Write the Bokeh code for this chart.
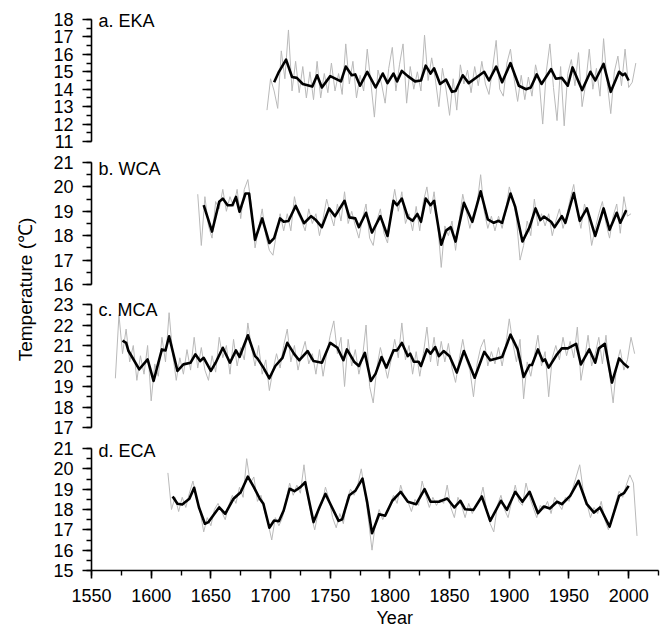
from bokeh.plotting import figure
from bokeh.models import Range1d, SingleIntervalTicker, Label
from bokeh.layouts import column, row
from bokeh.embed import file_html
from bokeh.resources import INLINE

FONT = "Liberation Sans"

# ---------------- data ----------------
x_start, x_end = 1550, 2025

# a. EKA
eka_raw_start = 1697
eka_raw = [12.8, 14.6, 13.9, 12.9, 16.2, 14.6, 17.4, 13.9, 15.6, 13.8, 15.3, 13.5, 15.0, 13.4, 15.6, 13.5,
           14.9, 13.8, 15.5, 13.9, 14.9, 13.7, 16.6, 14.3, 15.6, 13.5, 14.8, 13.9, 16.3, 14.4, 12.4, 15.1,
           14.3, 13.2, 15.2, 16.4, 13.9, 15.4, 16.6, 13.2, 15.3, 14.0, 15.0, 13.9, 17.1, 14.5, 15.8, 14.6,
           13.0, 15.2, 14.0, 12.5, 14.6, 12.8, 15.4, 14.3, 15.1, 13.8, 15.3, 14.2, 15.6, 14.3, 13.7, 15.2,
           16.8, 14.0, 13.6, 15.5, 16.3, 14.6, 13.3, 14.8, 13.4, 14.7, 13.6, 15.4, 14.5, 12.0, 15.0, 16.6,
           14.1, 12.2, 15.3, 11.9, 14.9, 15.7, 14.2, 16.1, 13.0, 14.3, 16.3, 14.0, 15.2, 13.6, 16.9, 14.4,
           12.6, 15.0, 15.9, 14.2, 16.3, 14.1, 14.4, 15.5]
eka_smooth_years = [1703, 1707, 1713, 1718, 1722, 1727, 1735, 1739, 1743, 1750, 1759, 1763, 1768, 1771, 1775,
                    1781, 1788, 1794, 1798, 1803, 1806, 1810, 1815, 1821, 1826, 1830, 1834, 1837, 1842, 1847,
                    1852, 1855, 1861, 1866, 1873, 1879, 1883, 1889, 1894, 1901, 1908, 1914, 1918, 1923, 1927,
                    1935, 1939, 1944, 1949, 1953, 1961, 1968, 1972, 1979, 1985, 1992, 1995, 1997, 2000]
eka_smooth = [14.4, 15.0, 15.7, 14.7, 14.65, 14.3, 14.15, 14.8, 14.1, 14.75, 14.45, 15.3, 14.8, 14.85, 14.2,
              15.0, 14.1, 14.9, 14.35, 14.9, 14.45, 15.05, 14.75, 14.45, 14.5, 15.35, 14.9, 15.2, 14.3, 14.55,
              13.85, 13.9, 14.8, 14.35, 14.7, 15.0, 14.5, 15.3, 14.4, 15.5, 14.2, 14.0, 14.1, 14.85, 14.3,
              15.15, 14.6, 14.65, 14.2, 15.25, 13.95, 15.0, 14.5, 15.45, 13.85, 15.0, 14.8, 14.9, 14.5]

# b. WCA
wca_raw_start = 1639
wca_raw = [19.7, 17.6, 19.6, 18.4, 17.9, 19.4, 19.1, 19.9, 19.0, 19.6, 19.2, 19.9, 18.7, 19.9, 20.3, 19.2,
           17.5, 18.3, 19.1, 18.0, 17.4, 17.2, 18.1, 18.9, 18.2, 18.9, 18.2, 19.6, 18.9, 18.6, 18.2, 19.1,
           18.5, 18.9, 18.0, 18.7, 19.5, 18.9, 18.4, 19.3, 18.6, 19.8, 18.5, 19.0, 18.4, 17.9, 18.7, 19.3,
           17.9, 17.6, 18.6, 19.1, 18.1, 17.7, 19.0, 19.9, 19.0, 19.8, 18.5, 18.9, 18.2, 19.2, 18.2, 19.4,
           20.0, 18.9, 19.8, 18.5, 16.7, 18.4, 18.0, 18.6, 17.4, 18.6, 19.7, 19.0, 18.3, 18.9, 19.3, 20.5,
           19.0, 18.3, 18.8, 18.2, 18.8, 18.3, 19.0, 20.0, 19.5, 18.7, 17.0, 17.6, 18.6, 18.0, 19.5, 18.4,
           18.9, 18.4, 18.9, 18.0, 18.6, 19.1, 18.3, 18.8, 19.5, 20.1, 19.0, 18.3, 19.3, 18.8, 17.6, 18.3,
           18.9, 19.4, 18.5, 17.9, 18.8, 19.3, 18.1, 19.6, 18.8, 18.9]
wca_smooth_years = [1644, 1651, 1657, 1660, 1664, 1668, 1671, 1674, 1679, 1682, 1687, 1693, 1699, 1703, 1708,
                    1711, 1715, 1721, 1728, 1734, 1738, 1743, 1749, 1754, 1762, 1766, 1771, 1774, 1780, 1785,
                    1792, 1798, 1803, 1806, 1810, 1815, 1819, 1823, 1826, 1830, 1834, 1837, 1843, 1847, 1851,
                    1855, 1862, 1869, 1876, 1882, 1887, 1891, 1894, 1901, 1905, 1911, 1917, 1922, 1926, 1929,
                    1935, 1938, 1944, 1947, 1954, 1959, 1965, 1972, 1979, 1984, 1990, 1993, 1998]
wca_smooth = [19.25, 18.17, 19.39, 19.52, 19.25, 19.25, 19.59, 18.98, 19.73, 19.73, 17.83, 18.71, 17.70, 17.90, 18.71,
              18.57, 18.6, 19.22, 18.51, 18.80, 18.64, 18.35, 19.12, 18.80, 19.43, 18.75, 18.71, 18.35, 18.94, 18.13,
              18.80, 17.99, 19.43, 19.25, 19.52, 18.75, 18.61, 18.89, 18.57, 19.52, 19.25, 19.43, 17.63, 18.21, 18.35,
              17.76, 19.35, 18.57, 19.82, 18.67, 18.53, 18.61, 18.53, 19.73, 19.18, 17.76, 18.35, 19.12, 18.64, 18.78,
              18.57, 18.35, 18.80, 18.53, 19.75, 18.61, 19.12, 17.99, 19.12, 18.24, 18.94, 18.53, 19.05]

# c. MCA
mca_raw_start = 1570
mca_raw = [19.4, 22.5, 20.6, 21.8, 20.2, 21.0, 19.3, 20.5, 19.6, 21.0, 18.3, 20.1, 19.5, 21.4, 20.2, 22.6,
           20.6, 19.3, 20.4, 19.6, 20.8, 19.8, 21.4, 19.9, 20.9, 19.8, 19.3, 20.5, 19.7, 21.4, 20.4, 21.0,
           19.6, 21.3, 20.0, 20.9, 20.3, 22.1, 20.9, 20.0, 21.0, 19.6, 20.3, 18.8, 19.8, 20.6, 19.9, 21.0,
           21.8, 20.2, 21.0, 19.8, 20.6, 21.2, 20.1, 20.6, 19.6, 20.8, 19.5, 20.6, 21.5, 22.2, 20.6, 21.4,
           19.0, 21.3, 20.0, 20.8, 19.6, 20.4, 22.0, 19.0, 18.2, 19.9, 20.9, 20.2, 19.4, 20.3, 21.3, 20.4,
           22.1, 20.3, 21.0, 19.6, 20.7, 19.5, 20.6, 21.9, 20.2, 21.4, 20.0, 21.2, 20.2, 21.1, 19.9, 19.2,
           20.3, 21.3, 20.3, 19.8, 18.5, 20.1, 20.9, 21.3, 20.0, 20.7, 20.1, 20.9, 20.0, 21.0, 22.3, 21.1,
           20.2, 21.3, 18.4, 20.2, 19.5, 20.5, 21.5, 20.0, 20.7, 18.5, 20.4, 21.0, 20.3, 21.4, 20.5, 21.2,
           20.4, 21.9, 19.3, 20.3, 21.5, 20.0, 20.6, 21.4, 20.1, 21.5, 19.6, 18.2, 20.1, 20.8, 19.8, 20.3,
           21.4, 20.6]
mca_smooth_years = [1576, 1579, 1581, 1584, 1590, 1597, 1602, 1606, 1609, 1612, 1615, 1622, 1627, 1633, 1637,
                    1641, 1644, 1650, 1654, 1660, 1666, 1671, 1674, 1681, 1687, 1689, 1694, 1699, 1704, 1710,
                    1714, 1720, 1724, 1731, 1736, 1743, 1750, 1756, 1761, 1764, 1770, 1774, 1779, 1784, 1788,
                    1793, 1797, 1803, 1806, 1810, 1815, 1817, 1820, 1824, 1826, 1831, 1834, 1838, 1841, 1845,
                    1850, 1856, 1862, 1871, 1879, 1884, 1894, 1901, 1907, 1912, 1917, 1919, 1924, 1928, 1930,
                    1933, 1940, 1944, 1949, 1956, 1960, 1967, 1972, 1975, 1980, 1986, 1992, 1996, 2000]
mca_smooth = [21.24, 21.13, 20.73, 20.44, 19.84, 20.32, 19.27, 20.16, 20.81, 20.76, 21.45, 19.76, 20.08, 20.16, 20.57,
              20.24, 20.40, 19.76, 20.16, 20.89, 20.16, 20.76, 20.44, 21.50, 20.48, 20.37, 19.92, 19.40, 20.00, 20.40,
              21.13, 20.57, 20.28, 20.73, 20.24, 20.16, 21.13, 20.89, 20.28, 20.81, 20.21, 20.00, 20.64, 19.27, 19.63,
              20.44, 19.92, 20.76, 20.76, 21.13, 20.48, 20.60, 20.21, 20.21, 20.00, 20.81, 20.60, 20.92, 20.48, 20.73,
              20.48, 19.68, 20.73, 19.43, 20.69, 20.28, 20.44, 21.53, 20.81, 19.47, 20.05, 20.05, 20.81, 20.24, 20.32,
              19.92, 20.57, 20.86, 20.86, 21.08, 20.08, 20.81, 20.16, 20.86, 21.08, 19.19, 20.37, 20.11, 19.92]

# d. ECA
eca_raw_start = 1614
eca_raw = [19.8, 18.0, 18.6, 17.9, 18.6, 18.1, 18.8, 19.4, 18.5, 17.9, 16.9, 17.6, 17.2, 18.0, 18.3, 17.9,
           17.5, 18.2, 18.7, 18.3, 19.1, 18.6, 20.5, 19.3, 19.6, 18.4, 18.7, 17.9, 17.3, 16.5, 17.6, 17.2,
           17.6, 18.5, 19.3, 18.7, 19.2, 18.8, 20.2, 18.7, 17.7, 17.0, 17.9, 18.3, 19.1, 18.5, 17.6, 17.1,
           17.8, 17.3, 18.5, 19.0, 18.7, 19.2, 20.0, 18.9, 17.5, 16.0, 17.4, 18.0, 17.5, 17.9, 18.2, 18.7,
           18.3, 19.2, 18.6, 18.4, 17.9, 18.5, 18.2, 19.4, 18.7, 18.1, 18.6, 18.2, 18.5, 18.3, 19.2, 18.1,
           17.6, 18.6, 18.2, 17.6, 18.3, 17.8, 18.2, 18.4, 19.1, 18.0, 17.3, 16.9, 18.2, 18.7, 18.0, 17.6,
           18.4, 19.2, 18.4, 18.2, 19.3, 18.6, 18.1, 17.6, 18.2, 18.0, 18.4, 17.8, 18.6, 18.3, 18.0, 18.6,
           18.4, 19.0, 19.6, 20.2, 18.9, 18.3, 17.6, 18.1, 17.8, 18.4, 17.5, 17.0, 17.5, 18.3, 18.9, 18.6,
           19.2, 19.7, 19.3, 16.7]
eca_smooth_years = [1618, 1622, 1626, 1632, 1636, 1640, 1645, 1648, 1653, 1657, 1662, 1669, 1675, 1681, 1686,
                    1691, 1694, 1699, 1703, 1707, 1711, 1716, 1720, 1725, 1729, 1736, 1741, 1746, 1750, 1757,
                    1760, 1766, 1771, 1777, 1781, 1785, 1791, 1796, 1802, 1809, 1815, 1822, 1829, 1834, 1841,
                    1848, 1854, 1859, 1863, 1870, 1877, 1884, 1893, 1898, 1905, 1911, 1917, 1924, 1929, 1934,
                    1940, 1944, 1951, 1958, 1965, 1971, 1976, 1984, 1992, 1996, 2000]
eca_smooth = [18.64, 18.28, 18.25, 18.53, 19.07, 18.11, 17.30, 17.38, 17.79, 18.11, 17.79, 18.53, 18.85, 19.62, 19.10,
              18.53, 18.28, 17.10, 17.46, 17.42, 17.95, 19.02, 18.90, 19.10, 19.34, 17.38, 18.11, 18.77, 18.28, 17.44,
              17.52, 18.70, 18.92, 19.52, 18.34, 16.83, 17.77, 17.69, 18.43, 18.87, 18.38, 18.26, 19.00, 18.38, 18.38,
              18.54, 18.10, 18.43, 18.01, 17.98, 18.64, 17.44, 18.43, 17.98, 18.87, 18.38, 18.87, 17.82, 18.15, 18.05,
              18.38, 18.26, 18.67, 19.41, 18.26, 17.85, 18.10, 17.16, 18.67, 18.80, 19.16]

panel_names = ["a. EKA", "b. WCA", "c. MCA", "d. ECA"]
panel_ylims = [(11, 18), (16, 21), (17, 23), (15, 21)]
raw_step = 3
y_label = "Temperature (℃)"
x_label = "Year"
x_label_at = 1804

# ---------------- layout ----------------
LABEL_W = 48
PANEL_W = 612
LEFT_B, RIGHT_B = 43, 2
FRAME_TOP = 3            # frame starts this far below canvas top (room for panel names)
layout_specs = [  # (axis top offset, total height, bottom border)
    (19, 151, 10),
    (11, 143, 10),
    (10, 143, 10),
    (11, 171, 38),
]
STRIP_H = 19
label_dy = [-1, -6, -5, -2]
TOTAL_H = sum(s[1] for s in layout_specs) + STRIP_H

xr = Range1d(x_start, x_end)

series = [
    (eka_raw_start, eka_raw, eka_smooth_years, eka_smooth),
    (wca_raw_start, wca_raw, wca_smooth_years, wca_smooth),
    (mca_raw_start, mca_raw, mca_smooth_years, mca_smooth),
    (eca_raw_start, eca_raw, eca_smooth_years, eca_smooth),
]


def style_axis(ax):
    ax.axis_line_color = "black"
    ax.axis_line_width = 1.6
    ax.major_tick_line_color = "black"
    ax.minor_tick_line_color = "black"
    ax.major_tick_line_width = 1.6
    ax.minor_tick_line_width = 1.4
    ax.major_tick_in = 0
    ax.minor_tick_in = 0
    ax.major_label_text_font = FONT
    ax.major_label_text_font_size = "18px"
    ax.major_label_text_color = "black"


figs = []
for i, (name, (ymin, ymax), (bt, h, bb), (rs, raw, sy, sv)) in enumerate(
        zip(panel_names, panel_ylims, layout_specs, series)):
    last = i == len(panel_names) - 1
    axis_px = h - bt - bb
    y_top = ymax + (bt - FRAME_TOP) * (ymax - ymin) / axis_px
    p = figure(width=PANEL_W, height=h, x_range=xr, y_range=Range1d(ymin, y_top),
               toolbar_location=None, output_backend="svg",
               x_axis_location="below" if last else None,
               min_border_left=LEFT_B, min_border_right=RIGHT_B,
               min_border_top=FRAME_TOP, min_border_bottom=bb,
               outline_line_color=None, background_fill_color="white",
               border_fill_color="white")
    p.grid.visible = False
    raw_years = list(range(rs, rs + raw_step * len(raw), raw_step))
    p.line(raw_years, raw, line_color="#b9b9b9", line_width=1)
    p.line(sy, sv, line_color="black", line_width=2.6, line_join="round")

    yax = p.yaxis[0]
    yax.ticker = SingleIntervalTicker(interval=1, num_minor_ticks=2)
    yax.bounds = (ymin, ymax)
    style_axis(yax)
    yax.major_tick_out = 9
    yax.minor_tick_out = 5
    yax.major_label_standoff = 9

    if last:
        xax = p.xaxis[0]
        xax.ticker = SingleIntervalTicker(interval=50, num_minor_ticks=2)
        style_axis(xax)
        xax.major_tick_out = 8
        xax.minor_tick_out = 5
        xax.major_label_standoff = 10

    p.add_layout(Label(x=x_start, y=ymax, x_offset=7, y_offset=label_dy[i],
                       text=name, text_font=FONT, text_font_size="18px",
                       text_color="black", text_baseline="middle", text_align="left"))
    figs.append(p)

# strip under the bottom panel carrying the x-axis title
strip = figure(width=PANEL_W, height=STRIP_H, x_range=xr, y_range=Range1d(0, STRIP_H),
               x_axis_location=None, y_axis_location=None, toolbar_location=None,
               output_backend="svg", min_border_left=LEFT_B, min_border_right=RIGHT_B,
               min_border_top=0, min_border_bottom=0, outline_line_color=None)
strip.grid.visible = False
strip.add_layout(Label(x=x_label_at, y=STRIP_H - 9, text=x_label, text_font=FONT,
                       text_font_size="18px", text_color="black",
                       text_baseline="middle", text_align="center"))
figs.append(strip)

lab = figure(width=LABEL_W, height=TOTAL_H, x_range=Range1d(0, LABEL_W), y_range=Range1d(0, TOTAL_H),
             x_axis_location=None, y_axis_location=None, toolbar_location=None,
             output_backend="svg", min_border=0, outline_line_color=None)
lab.grid.visible = False
lab.add_layout(Label(x=25, y=TOTAL_H - 289, text=y_label, angle=90, angle_units="deg",
                     text_align="center", text_baseline="middle", text_font=FONT,
                     text_font_size="19px", text_color="black"))

layout = row(lab, column(*figs, spacing=0), spacing=0)

open("out.html", "w").write(file_html(layout, INLINE))
